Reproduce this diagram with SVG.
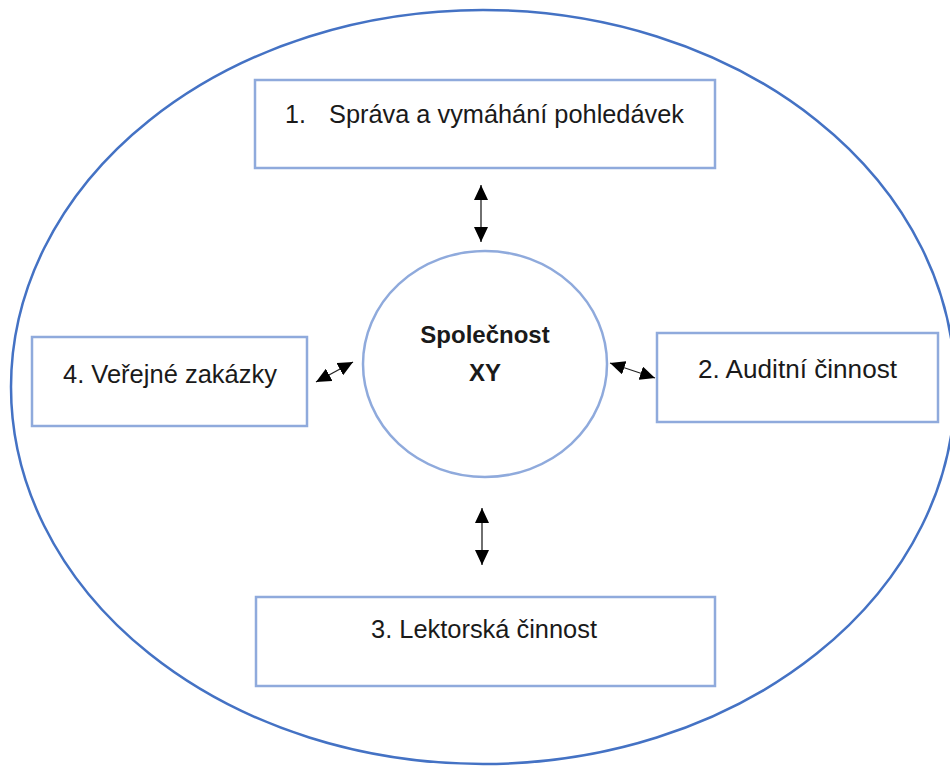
<svg xmlns="http://www.w3.org/2000/svg" width="950" height="767" viewBox="0 0 950 767">
<style>
.box{fill:#fff;stroke:#8FAADC;stroke-width:2.5}
.outer{fill:#fff;stroke:#4472C4;stroke-width:2.5}
.lbl{font-family:"Liberation Sans","Noto Sans",Arial,sans-serif;font-size:25px;fill:#1a1a1a}
.bold{font-weight:bold;font-size:24px;text-anchor:middle}
.conn{stroke:#222;stroke-width:1.3;fill:none;marker-start:url(#ah);marker-end:url(#ah)}
</style>
<defs>
<marker id="ah" markerUnits="userSpaceOnUse" markerWidth="15" markerHeight="14" viewBox="0 0 15 14" refX="15" refY="7" orient="auto-start-reverse">
<path d="M0,0 L15,7 L0,14 z" fill="#000"/>
</marker>
</defs>
<rect width="950" height="767" fill="#fff"/>
<ellipse id="outer" class="outer" cx="483" cy="387" rx="472" ry="377"/>
<g id="n1">
<rect class="box" x="255" y="80" width="460" height="88"/>
<text class="lbl" y="123"><tspan x="285">1.</tspan><tspan x="329" textLength="355" lengthAdjust="spacingAndGlyphs">Správa a vymáhání pohledávek</tspan></text>
</g>
<g id="center">
<ellipse class="box" cx="485" cy="364" rx="122" ry="113"/>
<text class="lbl bold" x="485" y="343">Společnost</text>
<text class="lbl bold" x="485" y="381">XY</text>
</g>
<g id="n4">
<rect class="box" x="32" y="337" width="275" height="89"/>
<text class="lbl" x="63" y="383" textLength="214" lengthAdjust="spacingAndGlyphs">4. Veřejné zakázky</text>
</g>
<g id="n2">
<rect class="box" x="657" y="333" width="281" height="89"/>
<text class="lbl" x="698" y="378" textLength="199" lengthAdjust="spacingAndGlyphs">2. Auditní činnost</text>
</g>
<g id="n3">
<rect class="box" x="256" y="597" width="459" height="89"/>
<text class="lbl" x="371" y="638" textLength="226" lengthAdjust="spacingAndGlyphs">3. Lektorská činnost</text>
</g>
<g id="connectors">
<line class="conn" x1="481" y1="185" x2="481" y2="242"/>
<line class="conn" x1="482" y1="508" x2="482" y2="565"/>
<line class="conn" x1="316" y1="382" x2="353" y2="362"/>
<line class="conn" x1="610" y1="363" x2="655" y2="378"/>
</g>
</svg>
